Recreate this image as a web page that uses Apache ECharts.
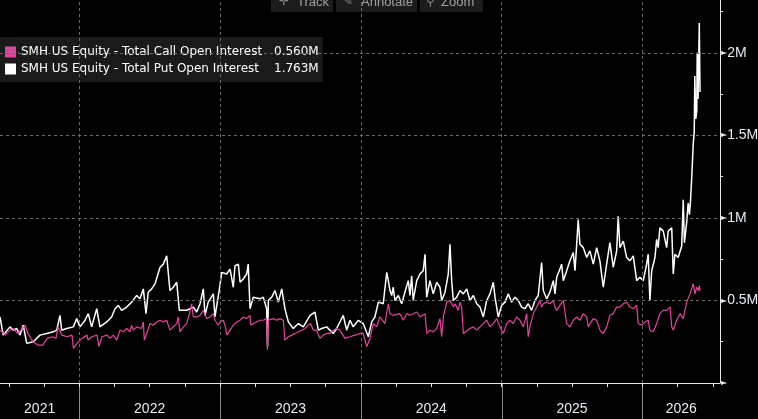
<!DOCTYPE html>
<html><head><meta charset="utf-8">
<script src="https://cdn.jsdelivr.net/npm/echarts@6/dist/echarts.min.js"></script>
<style>html,body{margin:0;padding:0;background:#000;}#c{width:758px;height:419px;}</style>
</head><body><div id="c"></div>
<script>
// ---- data (time in decimal years, values in millions of contracts) ----
const yearLabels = ['2021','2022','2023','2024','2025','2026'];
const gridYears = [2022, 2023, 2024, 2025, 2026];
const yGridValues = [0.5, 1, 1.5, 2];
const yTickLabels = ['0.5M', '1M', '1.5M', '2M'];
const seriesNames = ['SMH US Equity - Total Call Open Interest', 'SMH US Equity - Total Put Open Interest'];

const putT = [
2021.437,2021.460,2021.508,2021.531,2021.556,2021.579,2021.602,2021.627,2021.673,2021.721,
2021.769,2021.816,2021.840,2021.863,2021.875,2021.911,2021.958,2021.982,2022.005,2022.041,
2022.064,2022.088,2022.124,2022.147,2022.195,2022.230,2022.254,2022.277,2022.301,2022.337,
2022.372,2022.408,2022.431,2022.455,2022.474,2022.490,2022.514,2022.538,2022.573,2022.597,
2022.621,2022.632,2022.644,2022.668,2022.692,2022.711,2022.763,2022.786,2022.810,2022.834,
2022.858,2022.881,2022.893,2022.916,2022.952,2022.964,2022.976,2022.999,2023.012,2023.047,
2023.071,2023.094,2023.106,2023.130,2023.142,2023.165,2023.189,2023.200,2023.213,2023.236,
2023.284,2023.307,2023.331,2023.337,2023.343,2023.367,2023.390,2023.414,2023.438,2023.461,
2023.485,2023.520,2023.556,2023.591,2023.639,2023.674,2023.698,2023.722,2023.757,2023.804,
2023.828,2023.875,2023.899,2023.923,2023.946,2023.982,2024.017,2024.053,2024.077,2024.100,
2024.124,2024.159,2024.184,2024.195,2024.207,2024.219,2024.230,2024.242,2024.266,2024.290,
2024.313,2024.337,2024.349,2024.361,2024.372,2024.397,2024.420,2024.443,2024.456,2024.468,
2024.491,2024.514,2024.539,2024.562,2024.574,2024.598,2024.621,2024.633,2024.645,2024.657,
2024.681,2024.704,2024.728,2024.752,2024.775,2024.799,2024.823,2024.846,2024.870,2024.894,
2024.917,2024.941,2024.953,2024.976,2025.000,2025.024,2025.047,2025.071,2025.095,2025.118,
2025.142,2025.166,2025.189,2025.213,2025.237,2025.260,2025.284,2025.296,2025.320,2025.343,
2025.367,2025.379,2025.391,2025.414,2025.426,2025.438,2025.462,2025.485,2025.509,2025.521,
2025.533,2025.544,2025.556,2025.580,2025.604,2025.627,2025.651,2025.675,2025.698,2025.722,
2025.746,2025.769,2025.793,2025.817,2025.828,2025.840,2025.864,2025.888,2025.911,2025.935,
2025.959,2025.982,2026.006,2026.030,2026.041,2026.053,2026.066,2026.089,2026.101,2026.112,
2026.124,2026.148,2026.172,2026.183,2026.208,2026.219,2026.231,2026.254,2026.279,2026.290,
2026.298,2026.314,2026.325,2026.334,2026.342,2026.352,2026.361,2026.368,2026.372,2026.379,
2026.386,2026.389,2026.395,2026.404,2026.409];
const putV = [
0.40,0.29,0.34,0.32,0.33,0.29,0.35,0.24,0.25,0.29,
0.30,0.31,0.32,0.41,0.32,0.33,0.34,0.39,0.34,0.38,
0.42,0.34,0.45,0.34,0.37,0.40,0.45,0.47,0.44,0.46,
0.49,0.53,0.51,0.57,0.42,0.55,0.57,0.60,0.70,0.72,
0.77,0.77,0.56,0.58,0.61,0.44,0.44,0.45,0.46,0.43,
0.48,0.57,0.41,0.49,0.54,0.40,0.39,0.59,0.67,0.66,
0.69,0.58,0.71,0.72,0.61,0.63,0.66,0.72,0.45,0.52,
0.51,0.52,0.45,0.22,0.50,0.52,0.56,0.49,0.57,0.45,
0.37,0.33,0.36,0.34,0.41,0.43,0.32,0.33,0.34,0.30,
0.33,0.41,0.32,0.38,0.34,0.38,0.36,0.28,0.37,0.40,
0.49,0.48,0.67,0.62,0.56,0.53,0.58,0.50,0.53,0.48,
0.55,0.62,0.53,0.65,0.50,0.62,0.66,0.68,0.78,0.52,
0.62,0.54,0.61,0.58,0.50,0.55,0.66,0.84,0.62,0.50,
0.52,0.56,0.54,0.57,0.50,0.53,0.48,0.46,0.40,0.50,
0.54,0.61,0.52,0.40,0.47,0.49,0.54,0.49,0.52,0.50,
0.46,0.45,0.48,0.44,0.50,0.53,0.73,0.56,0.51,0.55,
0.62,0.54,0.64,0.69,0.72,0.62,0.68,0.74,0.79,0.68,
0.84,0.99,0.84,0.82,0.76,0.80,0.72,0.82,0.74,0.58,
0.72,0.85,0.70,0.80,1.01,0.82,0.86,0.76,0.74,0.77,
0.62,0.64,0.62,0.72,0.78,0.50,0.68,0.76,0.87,0.82,
0.94,0.92,0.82,0.92,0.94,0.66,0.78,0.76,0.83,1.11,
0.85,0.97,1.09,1.02,1.11,1.28,1.45,1.52,1.86,1.60,
1.65,2.00,1.72,2.18,1.763];

const callT = [
2021.437,2021.473,2021.508,2021.531,2021.565,2021.615,2021.636,2021.671,2021.707,2021.742,
2021.771,2021.813,2021.835,2021.849,2021.877,2021.913,2021.948,2021.959,2021.984,2022.019,
2022.055,2022.062,2022.090,2022.126,2022.140,2022.161,2022.197,2022.218,2022.242,2022.266,
2022.289,2022.313,2022.337,2022.360,2022.372,2022.384,2022.408,2022.443,2022.455,2022.462,
2022.479,2022.502,2022.526,2022.550,2022.573,2022.597,2022.621,2022.632,2022.644,2022.668,
2022.692,2022.703,2022.715,2022.739,2022.763,2022.786,2022.798,2022.810,2022.834,2022.858,
2022.881,2022.905,2022.928,2022.952,2022.964,2022.987,2022.999,2023.023,2023.035,2023.049,
2023.071,2023.094,2023.118,2023.142,2023.165,2023.189,2023.213,2023.218,2023.236,2023.260,
2023.284,2023.307,2023.331,2023.337,2023.343,2023.378,2023.402,2023.426,2023.449,2023.461,
2023.485,2023.509,2023.532,2023.556,2023.580,2023.603,2023.627,2023.644,2023.662,2023.686,
2023.710,2023.733,2023.757,2023.781,2023.804,2023.828,2023.852,2023.887,2023.923,2023.958,
2023.994,2024.017,2024.041,2024.065,2024.088,2024.112,2024.136,2024.171,2024.195,2024.207,
2024.230,2024.278,2024.301,2024.325,2024.349,2024.397,2024.420,2024.456,2024.468,2024.491,
2024.514,2024.539,2024.562,2024.574,2024.586,2024.610,2024.633,2024.657,2024.669,2024.692,
2024.704,2024.716,2024.728,2024.775,2024.799,2024.823,2024.846,2024.870,2024.894,2024.917,
2024.941,2024.965,2024.988,2025.012,2025.036,2025.059,2025.083,2025.107,2025.130,2025.154,
2025.178,2025.189,2025.201,2025.225,2025.249,2025.272,2025.284,2025.296,2025.320,2025.343,
2025.367,2025.379,2025.391,2025.414,2025.438,2025.450,2025.462,2025.485,2025.509,2025.533,
2025.556,2025.580,2025.604,2025.615,2025.627,2025.651,2025.675,2025.698,2025.722,2025.746,
2025.769,2025.793,2025.817,2025.840,2025.864,2025.888,2025.899,2025.911,2025.935,2025.959,
2025.970,2025.995,2026.018,2026.041,2026.053,2026.077,2026.101,2026.124,2026.148,2026.172,
2026.196,2026.208,2026.219,2026.243,2026.267,2026.290,2026.302,2026.314,2026.338,2026.361,
2026.373,2026.385,2026.397,2026.404,2026.409];
const callV = [
0.32,0.29,0.32,0.33,0.30,0.35,0.30,0.25,0.23,0.23,
0.27,0.28,0.27,0.34,0.29,0.28,0.29,0.21,0.24,0.27,
0.29,0.26,0.28,0.29,0.22,0.28,0.29,0.27,0.29,0.26,
0.32,0.31,0.33,0.31,0.35,0.32,0.34,0.33,0.37,0.26,
0.30,0.36,0.35,0.37,0.38,0.37,0.38,0.39,0.32,0.34,
0.36,0.40,0.31,0.34,0.36,0.43,0.48,0.40,0.40,0.41,
0.44,0.39,0.40,0.42,0.38,0.35,0.37,0.38,0.35,0.29,
0.32,0.35,0.37,0.38,0.40,0.39,0.41,0.35,0.36,0.37,
0.38,0.38,0.39,0.20,0.38,0.39,0.38,0.39,0.38,0.26,
0.28,0.29,0.30,0.31,0.32,0.33,0.35,0.36,0.32,0.32,
0.27,0.29,0.30,0.30,0.32,0.33,0.32,0.27,0.28,0.29,
0.30,0.30,0.22,0.27,0.36,0.34,0.40,0.36,0.48,0.42,
0.41,0.42,0.38,0.42,0.41,0.43,0.40,0.42,0.30,0.32,
0.31,0.33,0.39,0.28,0.40,0.49,0.50,0.46,0.48,0.44,
0.49,0.46,0.30,0.33,0.34,0.32,0.34,0.36,0.38,0.34,
0.36,0.39,0.34,0.30,0.36,0.38,0.36,0.40,0.38,0.34,
0.42,0.28,0.34,0.42,0.46,0.50,0.46,0.48,0.49,0.48,
0.50,0.46,0.44,0.47,0.50,0.50,0.36,0.34,0.38,0.40,
0.38,0.42,0.40,0.34,0.36,0.39,0.38,0.32,0.30,0.34,
0.41,0.42,0.46,0.46,0.48,0.49,0.50,0.46,0.45,0.47,
0.36,0.35,0.37,0.38,0.32,0.31,0.36,0.42,0.44,0.44,
0.46,0.34,0.32,0.38,0.42,0.39,0.44,0.49,0.54,0.60,
0.54,0.58,0.56,0.59,0.56];

// ---- layout / style ----
const XMIN = 2021.437, XMAX = 2026.551, YMAX = 2.32;
const CALL = '#e3449b', PUT = '#ffffff';
const AXIS = '#e6e6e6', GRIDC = '#6a6a6a', LBL = '#e4ebf5';
const AXFONT = "'Liberation Sans Narrow','Liberation Sans',Arial,sans-serif";

const quarterTicks = [];
for (let y = 2021; y <= 2026; y++) for (let q = 0; q < 4; q++) {
  const v = y + q * 0.25; if (v > XMIN && v < XMAX) quarterTicks.push(v);
}
const labelCenters = yearLabels.map(s => {
  const y = +s; return (Math.max(y, XMIN) + Math.min(y + 1, XMAX)) / 2;
});
const minorY = [0.25, 0.75, 1.25, 1.75, 2.25];
const lastVals = {};
lastVals[seriesNames[0]] = callV[callV.length - 1].toFixed(3) + 'M';
lastVals[seriesNames[1]] = putV[putV.length - 1].toFixed(3) + 'M';

const chart = echarts.init(document.getElementById('c'), null, {renderer: 'canvas'});
const option = {
  backgroundColor: '#000',
  animation: false,
  grid: {left: 0, right: 38, top: 0, bottom: 36, containLabel: false, outerBoundsMode: 'none'},
  legend: {
    data: seriesNames,
    orient: 'vertical', left: 0, top: 37,
    padding: [8, 4, 6, 5], itemGap: 3, itemWidth: 11, itemHeight: 11, icon: 'rect',
    backgroundColor: '#1a1a1a', selectedMode: false,
    formatter: name => '{n|' + name + '}{v|' + lastVals[name] + '}',
    textStyle: {
      color: '#fff', fontFamily: 'DejaVu Sans', fontSize: 12, lineHeight: 14,
      rich: {
        n: {width: 253, color: '#fff', fontFamily: 'DejaVu Sans', fontSize: 12, lineHeight: 14},
        v: {color: '#fff', fontFamily: 'DejaVu Sans', fontSize: 12, lineHeight: 14}
      }
    }
  },
  xAxis: [{
    type: 'value', min: XMIN, max: XMAX,
    axisLine: {show: true, onZero: false, lineStyle: {color: AXIS, width: 1}},
    axisTick: {show: true, customValues: quarterTicks, length: 4, lineStyle: {color: AXIS}},
    axisLabel: {
      show: true, customValues: labelCenters, margin: 19,
      formatter: v => yearLabels[Math.floor(v) - 2021],
      color: LBL, fontFamily: AXFONT, fontSize: 14
    },
    splitLine: {show: false}
  }],
  yAxis: [{
    type: 'value', min: 0, max: YMAX, position: 'right',
    axisLine: {show: true, onZero: false, lineStyle: {color: AXIS, width: 1}},
    axisTick: {show: true, customValues: minorY, length: 3, lineStyle: {color: AXIS}},
    axisLabel: {
      show: true, customValues: [0].concat(yGridValues), margin: 1,
      formatter: v => {
        const i = yGridValues.indexOf(v);
        return i < 0 ? '{a|►}' : '{a|►}{b|' + yTickLabels[i] + '}';
      },
      rich: {
        a: {color: AXIS, fontFamily: 'DejaVu Sans', fontSize: 8, lineHeight: 14},
        b: {color: LBL, fontFamily: AXFONT, fontSize: 14, lineHeight: 14}
      }
    },
    splitLine: {show: false}
  }],
  series: [
    {
      name: 'gridlines', type: 'line', data: [], z: 1, silent: true,
      markLine: {
        silent: true, symbol: ['none', 'none'], label: {show: false}, animation: false,
        lineStyle: {color: GRIDC, type: [3, 3], width: 1},
        data: gridYears.map(v => ({xAxis: v})).concat(yGridValues.map(v => ({yAxis: v})))
      }
    },
    {
      name: seriesNames[1], type: 'line', z: 2, showSymbol: false, symbol: 'none',
      lineStyle: {color: PUT, width: 1.5}, itemStyle: {color: PUT},
      data: putT.map((t, i) => [t, putV[i]])
    },
    {
      name: seriesNames[0], type: 'line', z: 3, showSymbol: false, symbol: 'none',
      lineStyle: {color: CALL, width: 1.2}, itemStyle: {color: CALL},
      data: callT.map((t, i) => [t, callV[i]])
    }
  ]
};
chart.setOption(option);

// year separators below the axis + toolbar chrome
const baseY = chart.convertToPixel({yAxisIndex: 0}, 0);
const g = [];
gridYears.forEach(y => {
  const x = Math.round(chart.convertToPixel({xAxisIndex: 0}, y)) + 0.5;
  g.push({type: 'line', silent: true, shape: {x1: x, y1: baseY + 1, x2: x, y2: 419}, style: {stroke: '#8c8c8c', lineWidth: 1}});
});
const tb = [
  {x: 271, w: 62, icon: '✛', ix: 279, label: 'Track', tx: 297},
  {x: 336, w: 81, icon: '✎', ix: 343, label: 'Annotate', tx: 361},
  {x: 420, w: 63, icon: '⚲', ix: 426, label: 'Zoom', tx: 441}
];
tb.forEach(b => {
  g.push({type: 'rect', silent: true, shape: {x: b.x, y: -3, width: b.w, height: 15}, style: {fill: '#1c1c1c'}});
  g.push({type: 'text', silent: true, x: b.ix, y: 2, style: {text: b.icon, fill: '#8a8a8a', font: '12px DejaVu Sans', verticalAlign: 'middle'}});
  g.push({type: 'text', silent: true, x: b.tx, y: 2, style: {text: b.label, fill: '#a0a0a0', font: '13px Liberation Sans', verticalAlign: 'middle'}});
});
chart.setOption({graphic: g});
</script>
</body></html>
